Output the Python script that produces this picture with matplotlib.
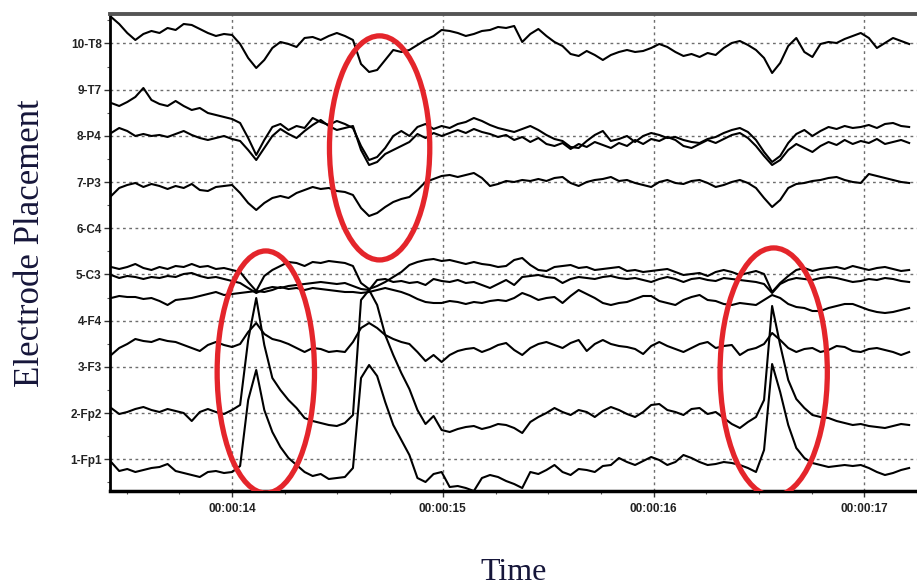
import numpy as np
import matplotlib.pyplot as plt
from matplotlib.patches import Ellipse

# channel rows, bottom to top
channels = ['1-Fp1', '2-Fp2', '3-F3', '4-F4', '5-C3', '6-C4', '7-P3', '8-P4', '9-T7', '10-T8']
time_ticks = [14, 15, 16, 17]
time_labels = ['00:00:14', '00:00:15', '00:00:16', '00:00:17']

# sampling of the traces
t0 = 13.426
fs = 26.144

# raw samples, negative-up convention; display row = (ref - sample) / gain
ref = 505.5
gain = 46.2

sig_t8 = [17, 24, 33, 40, 34, 31, 33, 28, 30, 24, 25, 29, 33, 36, 34, 35, 44, 58, 68, 60,
          48, 42, 44, 47, 38, 37, 40, 36, 33, 36, 40, 64, 72, 70, 60, 50, 52, 50, 45, 40,
          36, 30, 31, 33, 36, 34, 31, 30, 27, 28, 26, 42, 34, 29, 36, 42, 46, 54, 56, 51,
          55, 60, 55, 52, 50, 52, 51, 48, 44, 47, 52, 56, 54, 57, 53, 55, 48, 43, 41, 45,
          50, 58, 73, 63, 46, 38, 52, 57, 44, 42, 43, 39, 36, 33, 38, 48, 43, 38, 41, 44]
sig_t7 = [103, 106, 102, 97, 88, 100, 104, 106, 101, 106, 110, 108, 113, 115, 117, 119, 123, 138, 155, 140,
          127, 124, 130, 126, 128, 118, 122, 125, 121, 124, 128, 146, 160, 157, 148, 136, 131, 136, 127, 124,
          129, 126, 128, 124, 122, 118, 121, 125, 128, 130, 132, 129, 126, 130, 135, 139, 141, 147, 148, 141,
          135, 131, 141, 139, 136, 142, 136, 133, 135, 138, 137, 140, 142, 143, 139, 137, 133, 130, 128, 132,
          140, 152, 162, 156, 143, 134, 130, 136, 131, 127, 129, 126, 128, 127, 125, 128, 124, 123, 126, 127]
sig_p4 = [133, 128, 131, 136, 134, 136, 135, 137, 134, 131, 135, 138, 140, 138, 136, 139, 141, 150, 160, 148,
          136, 129, 134, 138, 131, 125, 120, 126, 130, 128, 126, 150, 165, 162, 154, 150, 146, 142, 134, 138,
          133, 136, 133, 130, 133, 129, 132, 134, 137, 135, 140, 137, 142, 138, 144, 146, 143, 149, 144, 147,
          142, 145, 148, 143, 146, 140, 144, 139, 141, 137, 140, 146, 148, 144, 140, 143, 139, 135, 133, 138,
          146, 156, 165, 160, 150, 144, 148, 152, 146, 142, 145, 140, 144, 141, 143, 139, 144, 142, 140, 143]
sig_p3 = [196, 188, 185, 183, 187, 184, 186, 189, 186, 188, 184, 190, 191, 187, 186, 185, 193, 203, 210, 203,
          198, 196, 198, 193, 190, 187, 189, 188, 191, 192, 195, 208, 216, 213, 207, 202, 199, 197, 190, 182,
          179, 176, 175, 177, 175, 173, 178, 186, 184, 181, 182, 180, 181, 179, 181, 178, 177, 183, 186, 182,
          180, 179, 177, 181, 180, 183, 185, 187, 182, 180, 183, 184, 181, 180, 183, 187, 185, 182, 180, 183,
          188, 198, 207, 200, 188, 184, 183, 181, 180, 178, 177, 180, 182, 183, 174, 176, 178, 180, 182, 183]
sig_c4 = [267, 269, 267, 264, 268, 270, 267, 269, 266, 267, 264, 267, 266, 269, 268, 270, 272, 282, 291, 276,
          270, 266, 262, 263, 266, 262, 263, 261, 262, 263, 266, 283, 289, 286, 282, 277, 272, 265, 262, 260,
          259, 261, 260, 262, 264, 262, 264, 265, 267, 266, 260, 258, 265, 270, 271, 267, 266, 265, 268, 267,
          270, 269, 268, 267, 271, 270, 272, 271, 270, 269, 272, 275, 274, 273, 276, 272, 270, 272, 275, 273,
          271, 274, 292, 283, 276, 270, 268, 271, 269, 268, 267, 269, 266, 268, 270, 268, 267, 269, 271, 270]
sig_c3 = [275, 278, 276, 277, 279, 277, 278, 276, 277, 274, 273, 276, 278, 277, 279, 281, 283, 288, 293, 289,
          287, 288, 286, 285, 284, 283, 282, 283, 284, 283, 286, 289, 290, 280, 279, 282, 281, 283, 282, 285,
          279, 281, 282, 280, 283, 282, 285, 288, 284, 280, 285, 277, 276, 275, 277, 278, 283, 279, 277, 278,
          279, 277, 276, 278, 279, 278, 280, 282, 279, 277, 279, 282, 279, 278, 280, 281, 278, 279, 280, 281,
          282, 284, 293, 284, 280, 278, 279, 280, 278, 277, 278, 280, 282, 281, 279, 280, 278, 279, 281, 282]
sig_f4 = [298, 296, 297, 297, 299, 298, 301, 305, 300, 299, 298, 296, 294, 292, 295, 294, 293, 292, 291, 292,
          290, 287, 289, 288, 290, 288, 289, 290, 291, 292, 292, 293, 292, 290, 288, 290, 292, 295, 299, 302,
          303, 303, 301, 302, 304, 302, 303, 301, 300, 301, 298, 293, 296, 300, 298, 297, 303, 296, 290, 294,
          298, 303, 305, 303, 302, 299, 296, 296, 301, 303, 305, 300, 297, 295, 300, 301, 304, 305, 303, 304,
          305, 300, 295, 298, 304, 307, 308, 311, 311, 308, 306, 304, 304, 307, 310, 312, 313, 312, 310, 308]
sig_f3 = [355, 348, 344, 339, 341, 342, 339, 341, 342, 345, 348, 351, 345, 342, 345, 347, 344, 332, 323, 334,
          339, 341, 344, 348, 352, 348, 349, 352, 351, 352, 342, 328, 323, 328, 335, 339, 342, 344, 352, 361,
          355, 362, 355, 351, 349, 348, 352, 349, 345, 343, 350, 355, 348, 344, 342, 345, 348, 343, 340, 351,
          344, 340, 344, 346, 347, 349, 354, 346, 342, 346, 349, 352, 348, 344, 342, 348, 346, 345, 355, 350,
          348, 344, 333, 340, 348, 352, 349, 348, 352, 350, 346, 347, 351, 352, 349, 348, 350, 352, 355, 352]
sig_fp2 = [408, 414, 412, 409, 407, 410, 412, 409, 411, 413, 421, 412, 409, 412, 414, 410, 405, 340, 298, 345,
           378, 390, 400, 408, 418, 421, 423, 425, 426, 423, 415, 300, 290, 305, 335, 355, 373, 389, 410, 424,
           416, 430, 432, 429, 427, 426, 429, 427, 424, 425, 428, 433, 422, 417, 413, 408, 412, 415, 410, 412,
           417, 411, 407, 410, 414, 417, 412, 405, 404, 410, 412, 415, 409, 408, 414, 412, 418, 424, 428, 422,
           417, 400, 306, 345, 380, 399, 408, 415, 417, 418, 421, 423, 425, 424, 426, 427, 428, 426, 424, 425]
sig_fp1 = [462, 471, 469, 472, 470, 468, 467, 464, 471, 473, 475, 477, 472, 471, 473, 472, 466, 400, 370, 410,
           432, 447, 458, 465, 472, 476, 474, 479, 478, 477, 468, 378, 365, 376, 402, 425, 440, 455, 478, 482,
           474, 472, 487, 486, 488, 491, 478, 475, 477, 481, 484, 488, 472, 474, 470, 465, 472, 475, 469, 470,
           472, 466, 465, 458, 462, 465, 461, 457, 460, 465, 462, 455, 458, 462, 465, 464, 462, 463, 465, 468,
           472, 450, 364, 392, 425, 448, 458, 463, 465, 467, 466, 465, 466, 465, 468, 472, 475, 473, 470, 468]

# eye blink / artifact markings (time, row, width in s, height in rows)
mark_t = [14.70, 14.16, 16.57]
mark_row = [7.74, 2.89, 2.89]
mark_w = [0.476, 0.462, 0.509]
mark_h = [4.85, 5.24, 5.37]

signals = [sig_t8, sig_t7, sig_p4, sig_p3, sig_c4, sig_c3, sig_f4, sig_f3, sig_fp2, sig_fp1]

fig = plt.figure(figsize=(9.17, 5.86), dpi=100)
ax = fig.add_axes([110 / 917, 1 - 491 / 586, 1 - 110 / 917, (491 - 13.5) / 586])

for s in signals:
    t = t0 + np.arange(len(s)) / fs
    ax.plot(t, (ref - np.array(s)) / gain, color='black', lw=1.5, zorder=3)

for tc, rc, w, h in zip(mark_t, mark_row, mark_w, mark_h):
    ax.add_patch(Ellipse((tc, rc), w, h, fill=False, edgecolor='#e4252b', lw=3.8, zorder=5))

ax.set_xlim(13.4206, 17.222)
ax.set_ylim(0.314, 10.649)

ax.set_xticks(time_ticks)
ax.set_xticklabels(time_labels)
ax.set_xticks(np.arange(13.5, 17.3, 0.25), minor=True)
ax.set_yticks(np.arange(1, len(channels) + 1))
ax.set_yticklabels(channels)
ax.set_yticks(np.arange(0.5, 10.6, 0.5), minor=True)

ax.grid(True, which='major', color='#6e6e6e', linestyle=(0, (2, 2.5)), lw=1.0, zorder=1)
ax.tick_params(axis='both', which='major', direction='out', length=4, width=1, color='#333333')
ax.tick_params(axis='both', which='minor', direction='out', length=2.5, width=0.8, color='#555555')
ax.tick_params(axis='x', pad=5)
ax.tick_params(axis='y', pad=2)
for lab in ax.get_xticklabels() + ax.get_yticklabels():
    lab.set_fontfamily('Liberation Sans')
    lab.set_fontsize(8.5)
    lab.set_fontweight('bold')
    lab.set_color('#222222')

ax.spines['right'].set_visible(False)
ax.spines['left'].set_linewidth(2)
ax.spines['bottom'].set_linewidth(2.5)
ax.spines['top'].set_linewidth(2.8)
ax.spines['top'].set_color('#555555')

ax.set_ylabel('Electrode Placement', fontsize=25, family='Liberation Serif', color='#16163a')
ax.yaxis.set_label_coords(-0.078, 0.52)
ax.set_xlabel('Time', fontsize=23, family='Liberation Serif', color='#16163a')
ax.xaxis.set_label_coords(0.5, -0.14)

fig.savefig('out.png', dpi=100)
